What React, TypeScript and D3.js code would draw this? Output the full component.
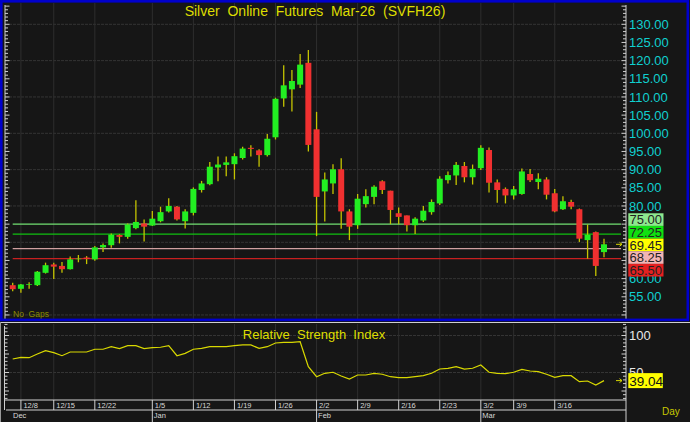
import React from 'react';
import * as d3 from 'd3';

const opens = [58.2,57.2,58.3,58.2,61.6,63.9,63.5,62.6,65.45,65.8,65.3,68.6,69.2,72.0,71.5,73.9,75.2,74.6,75.8,78.5,79.8,75.8,78.1,84.4,86.0,90.6,91.3,91.5,93.2,96.0,95.3,94.0,98.9,109.6,112.1,113.4,119.4,101.1,84.0,86.2,90.1,78.5,74.7,80.5,82.5,86.8,84.2,78.0,77.4,74.7,76.0,78.3,80.7,87.1,88.4,91.0,87.9,90.4,95.4,86.5,84.7,82.9,83.3,88.8,86.6,87.3,83.5,79.1,81.1,79.1,70.6,72.8,67.3];
const highs = [58.9,58.5,59.0,62.1,64.4,64.4,64.6,66.1,66.5,66.2,69.0,69.7,72.4,72.2,75.2,81.6,76.3,78.6,79.8,82.1,80.0,79.1,85.1,86.9,92.1,93.6,93.6,94.5,96.3,96.7,95.6,99.8,109.8,118.7,117.4,121.8,122.9,105.9,89.2,91.5,93.1,79.1,83.3,84.6,85.7,87.1,84.2,79.6,77.4,76.9,80.0,81.8,88.2,89.5,92.1,92.1,91.4,96.7,96.1,87.3,85.1,85.5,90.3,90.2,89.0,87.9,84.7,82.7,81.7,79.3,74.9,73.0,71.0];
const lows = [56.5,56.1,57.2,58.0,61.4,59.9,61.6,62.5,64.5,64.0,64.9,67.3,68.5,69.7,71.0,73.6,70.2,74.5,75.5,78.2,76.0,73.8,77.4,83.7,85.7,86.8,88.2,87.3,92.8,93.6,90.8,93.6,98.3,107.3,106.0,112.5,95.0,71.7,75.7,83.3,73.7,70.6,73.7,79.6,80.5,83.3,75.0,75.0,73.0,72.3,75.6,77.6,80.3,86.2,85.8,86.5,85.9,89.9,83.7,80.9,80.7,81.8,83.1,86.6,84.6,81.8,78.3,78.9,79.1,70.1,65.5,60.7,65.9];
const closes = [57.1,58.4,58.5,61.9,63.7,63.3,62.6,65.3,65.5,65.4,68.6,69.25,72.1,71.5,74.9,75.6,74.3,76.5,78.3,80.0,76.3,78.5,84.7,86.2,90.8,91.4,92.0,93.7,95.8,95.7,94.0,98.5,109.5,113.2,114.4,118.9,96.8,82.5,87.3,90.1,78.5,74.3,82.0,82.7,85.3,84.4,78.9,77.0,74.7,76.5,78.7,81.1,87.5,88.5,91.3,87.9,90.2,96.0,86.4,84.4,82.9,84.6,89.5,87.1,87.5,83.1,78.5,81.3,79.8,71.0,72.1,63.5,69.45];
const rsiValues = [68.2,70.5,70.0,75.0,79.5,76.8,72.7,77.7,77.7,77.7,81.4,81.4,84.9,82.2,86.2,86.2,82.2,83.5,84.1,86.2,72.7,75.9,81.4,82.7,84.9,84.9,84.9,86.2,87.2,87.2,82.7,84.9,89.9,90.8,90.8,91.6,57.8,44.3,48.9,50.3,45.3,41.2,46.6,46.6,48.9,47.6,44.3,43.0,43.0,44.3,45.7,48.9,54.7,55.7,57.8,54.7,55.7,60.1,50.3,48.9,48.4,50.3,54.3,52.0,51.1,47.6,43.5,45.7,45.7,37.6,38.5,33.1,39.04];

const weekIdx = [1,5,10,17,22,27,32,37,42,47,52,57,61,66];
const weekLabels = ['12/8','12/15','12/22','1/5','1/12','1/19','1/26','2/2','2/9','2/16','2/23','3/2','3/9','3/16'];
const monthIdx = [17,37,57];
const monthLabels = ['Dec','Jan','Feb','Mar'];
const priceTicks = [130,125,120,115,110,105,100,95,90,85,80,75,70,65,60,55];
const levelValues = [75.0, 72.25, 69.45, 68.25, 65.5];
const levelLabels = ['75.00','72.25','69.45','68.25','65.50'];
const rsiTicks = [100, 50];
const lastRsiLabel = '39.04';

const levelLine = ['#72e072','#10c010',null,'#d0a0a0','#c82020'];
const levelBox = ['#8ee88e','#10e010','#ffff00','#f2b4b4','#e42020'];

const FONT = 'Liberation Sans, Arial, sans-serif';

export default function App() {
  const W = 690, H = 422;
  const x = d3.scaleLinear().domain([0, 72]).range([12.7, 604]);
  const y = d3.scaleLinear().domain([55, 130]).range([296.8, 24.3]);
  const yr = d3.scaleLinear().domain([0, 100]).range([409.5, 335.5]);
  const axL = 5, axR = 626;
  const mainTop = 3, mainBot = 319;
  const rTop = 324, rBot = 400;

  const minorTicks = d3.range(50, 136, 1);
  const rsiMinor = d3.range(15, 116, 5);
  const gridH = d3.range(50, 131, 10);

  const rsiLine = d3.line<number>().x((_, i) => x(i)).y(d => yr(d));

  const boxH = 12.65;
  const anchor = y(levelValues[2]) + 0.6;
  const boxCenters = levelValues.map((_, k) => anchor + (k - 2) * boxH);
  const hiddenByBox = (v: number) =>
    boxCenters.some(c => Math.abs(y(v) - c) < boxH / 2 + 0.5);

  const arrow = (yy: number, key: string) => (
    <g key={key} stroke="#d8d800" strokeWidth={1} fill="none">
      <line x1={616} x2={622} y1={yy} y2={yy} />
      <path d={`M619.5,${yy - 2} L622,${yy} L619.5,${yy + 2}`} />
    </g>
  );

  return (
    <svg width={W} height={H} style={{ position: 'absolute', left: 0, top: 0, display: 'block' }} fontFamily={FONT}>
      <rect x={0} y={0} width={W} height={H} fill="#161616" />
      {gridH.map(v => (
        <line key={'gh' + v} x1={axL} x2={axR} y1={y(v)} y2={y(v)} stroke="#343434" strokeWidth={1} strokeDasharray="3,1" />
      ))}
      {weekIdx.map(i => (
        <line key={'gv' + i} x1={x(i)} x2={x(i)} y1={mainTop} y2={mainBot} stroke="#2e2e2e" strokeWidth={1} />
      ))}
      {levelValues.map((v, k) => levelLine[k] ? (
        <line key={'lv' + k} x1={x(0)} x2={621} y1={y(v)} y2={y(v)} stroke={levelLine[k] as string} strokeWidth={1.4} />
      ) : null)}
      {closes.map((c, i) => {
        const o = opens[i];
        const up = c >= o;
        const top = y(Math.max(o, c));
        const bh = Math.max(Math.abs(y(o) - y(c)), 0.6);
        return (
          <g key={'c' + i}>
            <line x1={x(i)} x2={x(i)} y1={y(highs[i])} y2={y(lows[i])} stroke="#c4c400" strokeWidth={1.3} />
            <rect x={x(i) - 3} y={top} width={6} height={bh} fill={up ? '#22ee22' : '#f03030'} />
          </g>
        );
      })}
      <text x={315} y={16} textAnchor="middle" fontSize={14} fill="#dede00" style={{ whiteSpace: 'pre' }}>{'Silver  Online  Futures  Mar-26  (SVFH26)'}</text>
      <text x={13} y={317} fontSize={8.5} fill="#8c8c00" style={{ whiteSpace: 'pre' }}>{'No  Gaps'}</text>
      <line x1={axL} x2={axL} y1={mainTop + 2} y2={mainBot} stroke="#cfcfcf" strokeWidth={1} />
      {minorTicks.map(v => (
        <line key={'lt' + v} x1={axL} x2={axL + (v % 5 === 0 ? 4.5 : 3)} y1={y(v)} y2={y(v)} stroke="#cfcfcf" strokeWidth={1} />
      ))}
      <line x1={axR} x2={axR} y1={mainTop + 2} y2={mainBot} stroke="#cfcfcf" strokeWidth={1} />
      {minorTicks.map(v => (
        <line key={'rt' + v} x1={axR} x2={axR - (v % 5 === 0 ? 4.5 : 3)} y1={y(v)} y2={y(v)} stroke="#cfcfcf" strokeWidth={1} />
      ))}
      {priceTicks.filter(v => !hiddenByBox(v)).map(v => (
        <text key={'pl' + v} x={629} y={y(v)} dy="0.36em" fontSize={13} fill="#10d0d0">{v.toFixed(2)}</text>
      ))}
      {levelValues.map((v, k) => (
        <g key={'lb' + k}>
          <rect x={628.3} y={boxCenters[k] - boxH / 2} width={35.2} height={boxH} fill={levelBox[k]} />
          <text x={629.5} y={boxCenters[k]} dy="0.36em" fontSize={13} fill="#222">{levelLabels[k]}</text>
        </g>
      ))}
      {arrow(y(levelValues[2]), 'a1')}
      <rect x={1.3} y={1.3} width={686.5} height={318.6} fill="none" stroke="#0000cc" strokeWidth={2.6} />
      <line x1={0} x2={W} y1={322.5} y2={322.5} stroke="#d0d0d0" strokeWidth={1.2} />
      <line x1={0.5} x2={0.5} y1={322} y2={H} stroke="#9a9a9a" strokeWidth={1} />
      {rsiTicks.map(v => (
        <line key={'rg' + v} x1={axL} x2={axR} y1={yr(v)} y2={yr(v)} stroke="#343434" strokeWidth={1} strokeDasharray="3,1" />
      ))}
      {weekIdx.map(i => (
        <line key={'rgv' + i} x1={x(i)} x2={x(i)} y1={rTop} y2={rBot} stroke="#2e2e2e" strokeWidth={1} />
      ))}
      <path d={rsiLine(rsiValues) || ''} fill="none" stroke="#d8d800" strokeWidth={1.2} />
      <text x={314} y={339} textAnchor="middle" fontSize={13} fill="#dede00" style={{ whiteSpace: 'pre' }}>{'Relative  Strength  Index'}</text>
      <line x1={4.5} x2={4.5} y1={rTop + 2} y2={410} stroke="#cfcfcf" strokeWidth={1} />
      {rsiMinor.map(v => (
        <line key={'rlt' + v} x1={4.5} x2={4.5 + (v % 25 === 0 ? 4.5 : 3)} y1={yr(v)} y2={yr(v)} stroke="#cfcfcf" strokeWidth={1} />
      ))}
      <line x1={axR} x2={axR} y1={rTop + 2} y2={H} stroke="#cfcfcf" strokeWidth={1} />
      {rsiMinor.map(v => (
        <line key={'rrt' + v} x1={axR} x2={axR - (v % 25 === 0 ? 4.5 : 3)} y1={yr(v)} y2={yr(v)} stroke="#cfcfcf" strokeWidth={1} />
      ))}
      {rsiTicks.map(v => (
        <text key={'rl' + v} x={629} y={yr(v)} dy="0.36em" fontSize={13} fill="#e8e8e8">{v}</text>
      ))}
      <rect x={628.3} y={yr(rsiValues[rsiValues.length - 1]) - 7.5} width={34.5} height={15} fill="#ffff00" />
      <text x={629.3} y={yr(rsiValues[rsiValues.length - 1])} dy="0.37em" fontSize={13.5} fill="#111">{lastRsiLabel}</text>
      {arrow(yr(rsiValues[rsiValues.length - 1]), 'a2')}
      <line x1={4} x2={axR} y1={400} y2={400} stroke="#d0d0d0" strokeWidth={1} />
      <line x1={6} x2={axR} y1={410} y2={410} stroke="#d0d0d0" strokeWidth={1} />
      {weekIdx.map((i, k) => (
        <g key={'wk' + i}>
          <line x1={x(i)} x2={x(i)} y1={400} y2={monthIdx.includes(i) ? H : 410} stroke="#d0d0d0" strokeWidth={1} />
          <text x={x(i) + 2.5} y={408} fontSize={7.5} fill="#d8d8d8">{weekLabels[k]}</text>
        </g>
      ))}
      <text x={13} y={417.5} fontSize={7.5} fill="#d8d8d8">{monthLabels[0]}</text>
      {monthIdx.map((i, k) => (
        <text key={'mo' + i} x={x(i) + 1.5} y={417.5} fontSize={7.5} fill="#d8d8d8">{monthLabels[k + 1]}</text>
      ))}
      <text x={662} y={415} fontSize={10} fill="#c8c800">Day</text>
    </svg>
  );
}
